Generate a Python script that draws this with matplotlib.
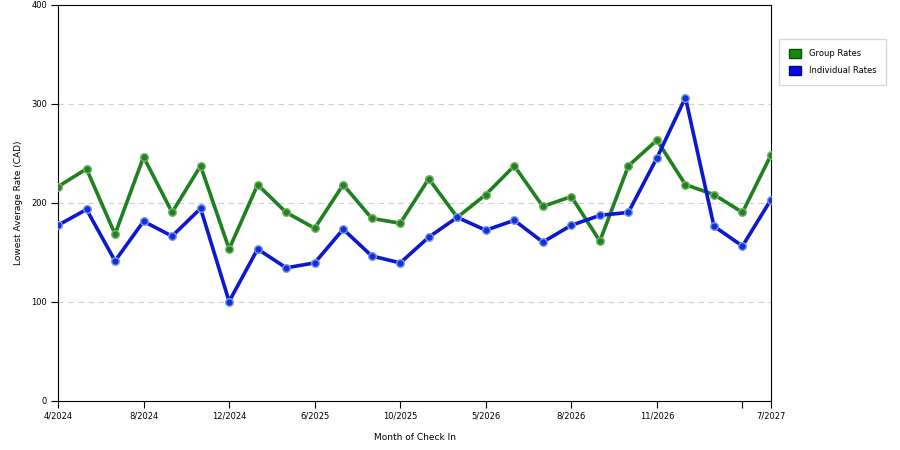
import matplotlib.pyplot as plt
import matplotlib.patches as mpatches
import numpy as np

months = ["4/2024", "", "", "8/2024", "", "", "12/2024", "", "", "6/2025", "", "",
          "10/2025", "", "", "5/2026", "", "", "8/2026", "", "", "11/2026", "", "",
          "", "7/2027"]
tick_idx = [0, 3, 6, 9, 12, 15, 18, 21, 24, 25]

group_rates = [216, 234, 168, 246, 190, 237, 153, 218, 190, 174, 218, 184, 179,
               224, 185, 208, 237, 196, 206, 161, 237, 263, 218, 208, 190, 248]
individual_rates = [177, 193, 141, 181, 166, 194, 100, 153, 134, 139, 173, 146, 139,
                    165, 185, 172, 182, 160, 177, 187, 190, 245, 306, 176, 156, 203]

x = np.arange(len(group_rates))

fig = plt.figure(figsize=(9, 4.5), dpi=100)
ax = fig.add_axes([58 / 900, 49.5 / 450, 713 / 900, 396 / 450])

ax.plot(x, group_rates, color="#1e801e", lw=2.6, marker="o", ms=5.5,
        mfc="#1f851f", mec="#7fb070", mew=1.0, zorder=3)
ax.plot(x, individual_rates, color="#0c18d0", lw=2.6, marker="o", ms=5.5,
        mfc="#1230d8", mec="#7f9ae8", mew=1.0, zorder=3)

ax.set_xlim(0, 25)
ax.set_ylim(0, 400)
ax.set_yticks([0, 100, 200, 300, 400])
ax.set_xticks(tick_idx)
ax.set_xticklabels([months[i] for i in tick_idx])
ax.tick_params(axis="both", labelsize=6, direction="out", length=5, width=0.8, pad=3)

for y in [100, 200, 300]:
    ax.axhline(y, color="#d0d0d0", lw=0.8, ls=(0, (5, 4)), zorder=1)

for s in ax.spines.values():
    s.set_color("black")
    s.set_linewidth(0.8)

ax.set_xlabel("Month of Check In", fontsize=6.5, labelpad=9)
ax.set_ylabel("Lowest Average Rate (CAD)", fontsize=6.5, labelpad=6)

handles = [mpatches.Patch(facecolor="#138a13", edgecolor="#0b4d0b", label="Group Rates"),
           mpatches.Patch(facecolor="#0a0ae8", edgecolor="#05057a", label="Individual Rates")]
fig.legend(handles=handles, loc="upper left", bbox_to_anchor=(779 / 900, 1 - 39 / 450),
           fontsize=6, frameon=True, fancybox=False, edgecolor="#cccccc",
           handlelength=1.45, handleheight=1.45, handletextpad=1.0, labelspacing=0.85,
           borderpad=1.15, borderaxespad=0)

fig.savefig("out.png", dpi=100)
